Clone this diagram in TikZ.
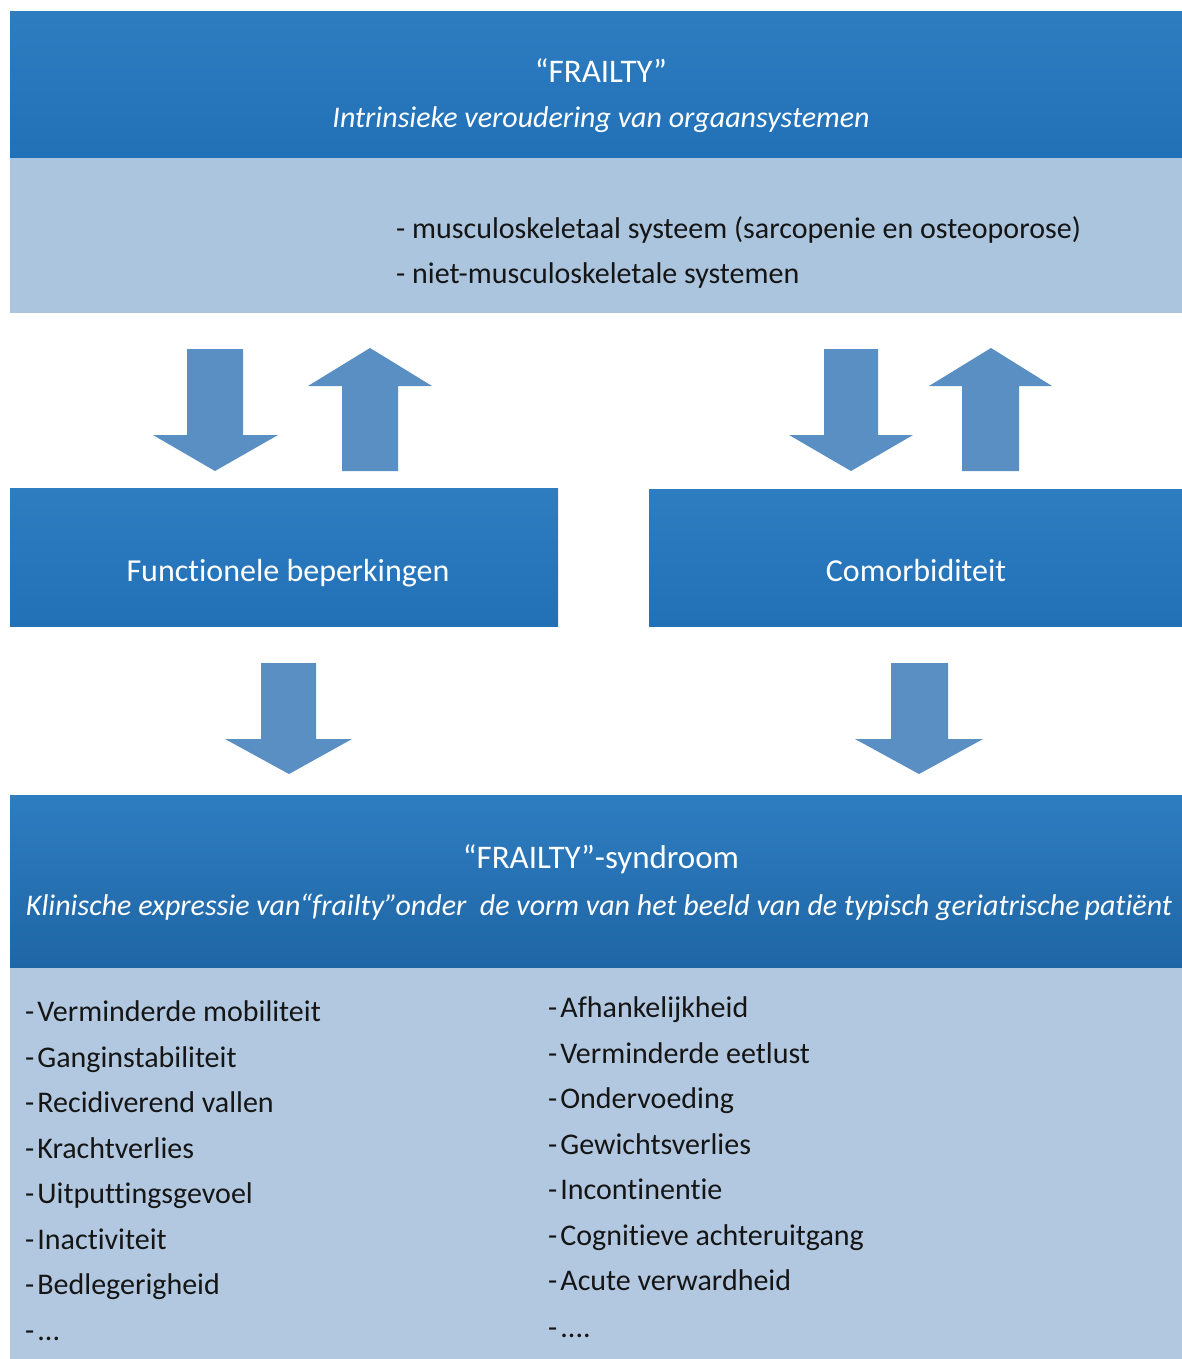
\documentclass[tikz,border=0pt]{standalone}
\usepackage{fontspec}
\setmainfont{Carlito}[Ligatures={NoCommon}]
\definecolor{boxtop}{HTML}{2E7DC1}
\definecolor{boxbot}{HTML}{2271B7}
\definecolor{panelblue}{HTML}{ABC5DE}
\definecolor{listblue}{HTML}{B2C8E0}
\definecolor{arrowblue}{HTML}{5A8FC4}
\definecolor{textdark}{HTML}{151515}
\begin{document}
\begin{tikzpicture}[x=1pt,y=-1pt,
  headbox/.style={anchor=north west, inner sep=0pt, top color=boxtop, bottom color=boxbot, draw=none},
  panel/.style={anchor=north west, inner sep=0pt, fill=panelblue, draw=none},
  titletxt/.style={text=white, inner sep=0pt, anchor=base, font=\fontsize{33}{38}\selectfont},
  ittxt/.style={text=white, inner sep=0pt, anchor=base, font=\fontsize{30}{34}\selectfont\itshape},
  blacktxt/.style={text=textdark, inner sep=0pt, anchor=base west, font=\fontsize{30}{34}\selectfont},
  listtxt/.style={text=textdark, inner sep=0pt, anchor=base west, font=\fontsize{30}{34}\selectfont},
  blockarrow/.style={fill=arrowblue, draw=none}]
\useasboundingbox (0,0) rectangle (1182,1359);
\fill[white] (0,0) rectangle (1182,1359);

% top box
\node[headbox, minimum width=1172pt, minimum height=147pt] (frailty) at (10,11) {};
\node[panel, minimum width=1172pt, minimum height=155pt] (organs) at (10,158) {};
\node[titletxt] (ftitle) at (601,83) {“FRAILTY”};
\node[ittxt] (fsub) at (601,128) {Intrinsieke veroudering van orgaansystemen};
\node[blacktxt] (o1) at (396,238) {- musculoskeletaal systeem (sarcopenie en osteoporose)};
\node[blacktxt] (o2) at (396,283) {- niet-musculoskeletale systemen};

% middle boxes
\node[headbox, minimum width=548pt, minimum height=138pt] (func) at (10,488) {};
\node[headbox, minimum width=533pt, minimum height=137pt] (comor) at (649,489) {};
\node[titletxt, font=\fontsize{32}{38}\selectfont] (functxt) at (288,581) {Functionele beperkingen};
\node[titletxt, font=\fontsize{32}{38}\selectfont] (comortxt) at (916,581) {Comorbiditeit};

% bottom box
\node[headbox, top color=boxtop, bottom color=boxbot!90!black, minimum width=1172pt, minimum height=173pt] (syn) at (10,795) {};
\node[panel, fill=listblue, minimum width=1172pt, minimum height=391pt] (symp) at (10,968) {};
\node[titletxt] (syntitle) at (601,868) {“FRAILTY”-syndroom};
\node[ittxt] (synsub) at (599,915) {Klinische expressie van“frailty”onder\ \ de vorm van het beeld van de typisch geriatrische\,patiënt};

% block arrows
\coordinate (a1) at (215,471);
\fill[blockarrow] (187,349) -- (243,349) -- (243,435) -- (278,435) -- (a1) -- (153,435) -- (187,435) -- cycle;
\coordinate (a2) at (370,348);
\fill[blockarrow] (342,471) -- (398,471) -- (398,386) -- (432,386) -- (a2) -- (308,386) -- (342,386) -- cycle;
\coordinate (a3) at (851,471);
\fill[blockarrow] (824,349) -- (878,349) -- (878,435) -- (913,435) -- (a3) -- (789,435) -- (824,435) -- cycle;
\coordinate (a4) at (991,348);
\fill[blockarrow] (962,471) -- (1019,471) -- (1019,386) -- (1052,386) -- (a4) -- (929,386) -- (962,386) -- cycle;
\coordinate (a5) at (289,774);
\fill[blockarrow] (261,663) -- (316,663) -- (316,739) -- (352,739) -- (a5) -- (225,739) -- (261,739) -- cycle;
\coordinate (a6) at (919,774);
\fill[blockarrow] (891,663) -- (948,663) -- (948,739) -- (983,739) -- (a6) -- (855,739) -- (891,739) -- cycle;

% symptom lists
\node[listtxt] (l1) at (25,1021) {-\hspace{3pt}Verminderde mobiliteit};
\node[listtxt] (l2) at (25,1067) {-\hspace{3pt}Ganginstabiliteit};
\node[listtxt] (l3) at (25,1112) {-\hspace{3pt}Recidiverend vallen};
\node[listtxt] (l4) at (25,1158) {-\hspace{3pt}Krachtverlies};
\node[listtxt] (l5) at (25,1203) {-\hspace{3pt}Uitputtingsgevoel};
\node[listtxt] (l6) at (25,1249) {-\hspace{3pt}Inactiviteit};
\node[listtxt] (l7) at (25,1294) {-\hspace{3pt}Bedlegerigheid};
\node[listtxt] (l8) at (25,1340) {-\hspace{3pt}...};

\node[listtxt] (r1) at (548,1017) {-\hspace{3pt}Afhankelijkheid};
\node[listtxt] (r2) at (548,1063) {-\hspace{3pt}Verminderde eetlust};
\node[listtxt] (r3) at (548,1108) {-\hspace{3pt}Ondervoeding};
\node[listtxt] (r4) at (548,1154) {-\hspace{3pt}Gewichtsverlies};
\node[listtxt] (r5) at (548,1199) {-\hspace{3pt}Incontinentie};
\node[listtxt] (r6) at (548,1245) {-\hspace{3pt}Cognitieve achteruitgang};
\node[listtxt] (r7) at (548,1290) {-\hspace{3pt}Acute verwardheid};
\node[listtxt] (r8) at (548,1337) {-\hspace{3pt}....};
\end{tikzpicture}
\end{document}
